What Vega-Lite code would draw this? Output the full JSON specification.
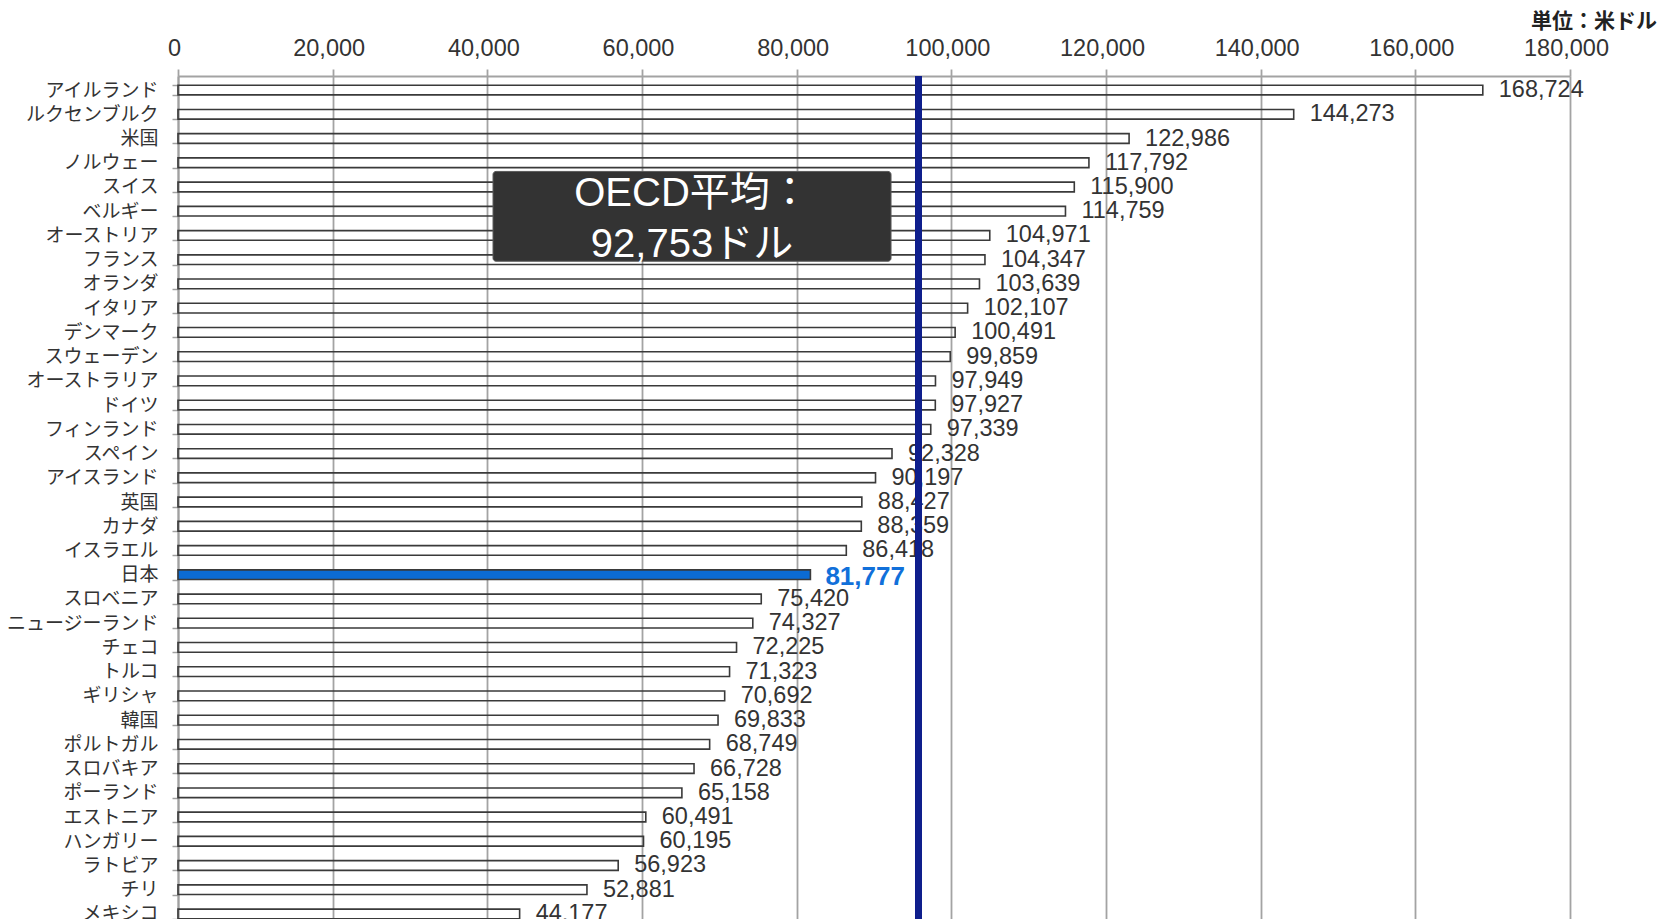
{
  "$schema": "https://vega.github.io/schema/vega-lite/v6.json",
  "width": 1392,
  "height": 852,
  "autosize": {"type": "none"},
  "padding": {"left": 178, "top": 76, "right": 89, "bottom": 0},
  "background": "white",
  "title": {
    "text": "単位：米ドル",
    "anchor": "end",
    "frame": "group",
    "orient": "top",
    "font": "Noto Sans CJK JP",
    "fontSize": 21,
    "fontWeight": "bold",
    "color": "#222222",
    "dx": 87,
    "dy": -4,
    "offset": 0
  },
  "config": {
    "view": {"stroke": null},
    "font": "Liberation Sans",
    "axisX": {
      "orient": "top",
      "title": null,
      "format": ",",
      "labelExpr": "format(datum.value, ',')",
      "labelFlush": false,
      "labelOffset": -4,
      "grid": true,
      "gridColor": "#a3a3a3",
      "gridWidth": 1.8,
      "domainColor": "#a3a3a3",
      "domainWidth": 2,
      "tickColor": "#a3a3a3",
      "tickWidth": 1.8,
      "tickSize": 7,
      "labelFontSize": 23.5,
      "labelColor": "#333333",
      "labelPadding": 9,
      "labelFont": "Liberation Sans"
    }
  },
  "layer": [
    {
      "data": {
        "values": [
          {"country": "アイルランド", "value": 168724},
          {"country": "ルクセンブルク", "value": 144273},
          {"country": "米国", "value": 122986},
          {"country": "ノルウェー", "value": 117792},
          {"country": "スイス", "value": 115900},
          {"country": "ベルギー", "value": 114759},
          {"country": "オーストリア", "value": 104971},
          {"country": "フランス", "value": 104347},
          {"country": "オランダ", "value": 103639},
          {"country": "イタリア", "value": 102107},
          {"country": "デンマーク", "value": 100491},
          {"country": "スウェーデン", "value": 99859},
          {"country": "オーストラリア", "value": 97949},
          {"country": "ドイツ", "value": 97927},
          {"country": "フィンランド", "value": 97339},
          {"country": "スペイン", "value": 92328},
          {"country": "アイスランド", "value": 90197},
          {"country": "英国", "value": 88427},
          {"country": "カナダ", "value": 88359},
          {"country": "イスラエル", "value": 86418},
          {"country": "日本", "value": 81777},
          {"country": "スロベニア", "value": 75420},
          {"country": "ニュージーランド", "value": 74327},
          {"country": "チェコ", "value": 72225},
          {"country": "トルコ", "value": 71323},
          {"country": "ギリシャ", "value": 70692},
          {"country": "韓国", "value": 69833},
          {"country": "ポルトガル", "value": 68749},
          {"country": "スロバキア", "value": 66728},
          {"country": "ポーランド", "value": 65158},
          {"country": "エストニア", "value": 60491},
          {"country": "ハンガリー", "value": 60195},
          {"country": "ラトビア", "value": 56923},
          {"country": "チリ", "value": 52881},
          {"country": "メキシコ", "value": 44177}
        ]
      },
      "encoding": {
        "y": {
          "field": "country",
          "type": "nominal",
          "sort": null,
          "scale": {"paddingInner": 0.6, "paddingOuter": 0.38},
          "axis": {
            "title": null,
            "tickBand": "extent",
            "tickSize": 6,
            "tickColor": "#a0a0a0",
            "tickWidth": 1.5,
            "domainColor": "#a0a0a0",
            "domainWidth": 2,
            "labelFont": "Noto Sans CJK JP",
            "labelFontSize": 19,
            "labelColor": "#333333",
            "labelPadding": 14,
            "grid": false
          }
        }
      },
      "layer": [
        {
          "mark": {"type": "bar", "stroke": "#3a3a3a", "strokeWidth": 1.6},
          "encoding": {
            "x": {
              "field": "value",
              "type": "quantitative",
              "scale": {"domain": [0, 180000], "nice": false},
              "axis": {"values": [0, 20000, 40000, 60000, 80000, 100000, 120000, 140000, 160000, 180000]}
            },
            "fill": {
              "condition": {"test": "datum.country === '日本'", "value": "#0b6bd3"},
              "value": "transparent"
            }
          }
        },
        {
          "transform": [{"filter": "datum.country !== '日本'"}],
          "mark": {"type": "text", "align": "left", "baseline": "middle", "dx": 16, "fontSize": 23.5, "font": "Liberation Sans", "color": "#333333"},
          "encoding": {
            "x": {"field": "value", "type": "quantitative"},
            "text": {"field": "value", "type": "quantitative", "format": ","}
          }
        },
        {
          "transform": [{"filter": "datum.country === '日本'"}],
          "mark": {"type": "text", "align": "left", "baseline": "middle", "dx": 15, "dy": 2, "fontSize": 26, "fontWeight": "bold", "font": "Liberation Sans", "color": "#1170da"},
          "encoding": {
            "x": {"field": "value", "type": "quantitative"},
            "text": {"field": "value", "type": "quantitative", "format": ","}
          }
        },
        {
          "mark": {"type": "rule", "color": "#0f1f8c", "strokeWidth": 6},
          "encoding": {
            "x": {"datum": 95800, "type": "quantitative"},
            "y": null
          }
        }
      ]
    },
    {
      "data": {"values": [{"label": "OECD平均：\n92,753ドル"}]},
      "layer": [
        {
          "mark": {"type": "rect", "fill": "#333333", "stroke": "#5a5a5a", "strokeWidth": 1, "cornerRadius": 3},
          "encoding": {
            "x": {"datum": 40735, "type": "quantitative"},
            "x2": {"datum": 92202},
            "y": {"datum": 3.42, "type": "quantitative", "scale": {"domain": [-0.5, 34.5], "reverse": true, "nice": false, "zero": false}, "axis": null},
            "y2": {"datum": 7.11}
          }
        },
        {
          "mark": {"type": "text", "color": "white", "fontSize": 40, "lineHeight": 51, "align": "center", "baseline": "middle", "lineBreak": "\n", "font": "Liberation Sans, Noto Sans CJK JP"},
          "encoding": {
            "x": {"datum": 66468, "type": "quantitative"},
            "y": {"datum": 4.33, "type": "quantitative"},
            "text": {"field": "label"}
          }
        }
      ]
    }
  ],
  "resolve": {"scale": {"y": "independent"}, "axis": {"y": "independent"}}
}
